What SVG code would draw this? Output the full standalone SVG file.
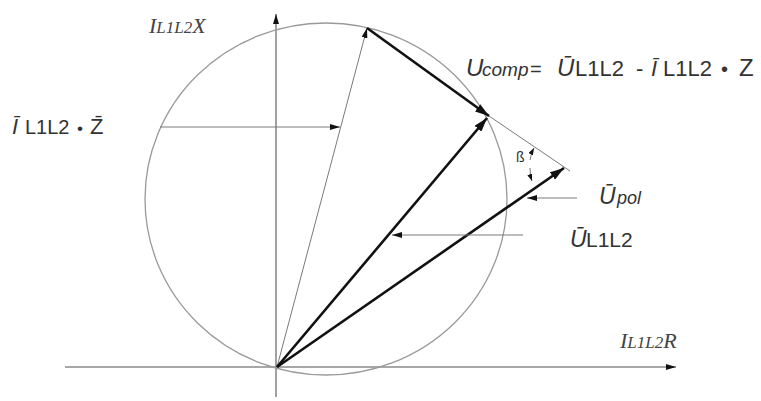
<svg xmlns="http://www.w3.org/2000/svg" width="761" height="401" viewBox="0 0 761 401">
<style>
.bg{fill:#fff}
.axis{stroke:#8a8a8a;stroke-width:1.6;fill:none}
.circ{stroke:#9a9a9a;stroke-width:1.3;fill:none}
.thin{stroke:#7a7a7a;stroke-width:1;fill:none}
.thick{stroke:#111;stroke-width:2.6;fill:none}
.s{font-family:"Liberation Sans",Arial,sans-serif;fill:#333}
.i{font-style:italic}
.serif{font-family:"Liberation Serif","Times New Roman",serif;font-style:italic;fill:#444}
</style>
<defs>
<marker id="ah" viewBox="0 0 10 6" refX="10" refY="3" markerWidth="10" markerHeight="6" markerUnits="userSpaceOnUse" orient="auto">
<path d="M0,0 L10,3 L0,6 z" fill="#111"/>
</marker>
<marker id="ahb" viewBox="0 0 14 9" refX="14" refY="4.5" markerWidth="14" markerHeight="9" markerUnits="userSpaceOnUse" orient="auto">
<path d="M0,0 L14,4.5 L0,9 z" fill="#111"/>
</marker>
<marker id="ahs" viewBox="0 0 7 5" refX="7" refY="2.5" markerWidth="7" markerHeight="5" markerUnits="userSpaceOnUse" orient="auto">
<path d="M0,0 L7,2.5 L0,5 z" fill="#111"/>
</marker>
</defs>
<rect class="bg" x="0" y="0" width="761" height="401"/>
<g id="axes">
<line class="axis" x1="65" y1="367" x2="676" y2="367" marker-end="url(#ah)"/>
<line class="axis" x1="276" y1="397" x2="276" y2="14" marker-end="url(#ah)"/>
</g>
<g id="circle">
<ellipse class="circ" cx="326" cy="199" rx="181" ry="176"/>
</g>
<g id="connectors">
<line class="thin" x1="277" y1="367" x2="367" y2="28" marker-end="url(#ah)"/>
<line class="thick" x1="367" y1="28" x2="489" y2="116" marker-end="url(#ahb)"/>
<line class="thick" x1="277" y1="367" x2="487" y2="118" marker-end="url(#ahb)"/>
<line class="thick" x1="277" y1="367" x2="564" y2="168" marker-end="url(#ahb)"/>
<line class="thin" x1="489" y1="116" x2="570" y2="171"/>
<path class="thin" d="M530,160 A37,37 0 0 1 534,148" marker-end="url(#ahs)"/>
<path class="thin" d="M530,168 A37,37 0 0 0 532,181" marker-end="url(#ahs)"/>
<line class="thin" x1="160" y1="127" x2="340" y2="127" marker-end="url(#ah)"/>
<line class="thin" x1="577" y1="198" x2="527" y2="198" marker-end="url(#ah)"/>
<line class="thin" x1="523" y1="235" x2="392" y2="235" marker-end="url(#ah)"/>
</g>
<g id="label-x-axis">
<text class="serif" x="149" y="33"><tspan font-size="22">I</tspan><tspan font-size="17">L1L2</tspan><tspan font-size="22">X</tspan></text>
</g>
<g id="label-r-axis">
<text class="serif" x="620" y="348"><tspan font-size="22">I</tspan><tspan font-size="17">L1L2</tspan><tspan font-size="22">R</tspan></text>
</g>
<g id="label-ucomp">
<text class="s i" x="466" y="76" font-size="24">U</text>
<text class="s i" x="482" y="76" font-size="19">comp</text>
<text class="s" x="530" y="76" font-size="20">=</text>
<text class="s i" x="557" y="76" font-size="24">Ū</text>
<text class="s" x="575" y="76" font-size="22">L1L2</text>
<text class="s" x="636" y="76" font-size="22">-</text>
<text class="s i" x="651" y="76" font-size="22">Ī</text>
<text class="s" x="663" y="76" font-size="22">L1L2</text>
<text class="s" x="721" y="76" font-size="20">•</text>
<text class="s" x="739" y="76" font-size="24">Z</text>
</g>
<g id="label-iz">
<text class="s i" x="12" y="134" font-size="22">Ī</text>
<text class="s" x="25" y="134" font-size="20">L1L2</text>
<text class="s" x="77" y="134" font-size="17">•</text>
<text class="s" x="90" y="134" font-size="22">Z̄</text>
</g>
<g id="label-beta">
<text class="s" x="516" y="162" font-size="14">ß</text>
</g>
<g id="label-upol">
<text class="s i" x="599" y="204" font-size="23">Ū</text>
<text class="s i" x="617" y="204" font-size="18">pol</text>
</g>
<g id="label-ul1l2">
<text class="s i" x="570" y="247" font-size="23">Ū</text>
<text class="s" x="586" y="247" font-size="21">L1L2</text>
</g>
</svg>
